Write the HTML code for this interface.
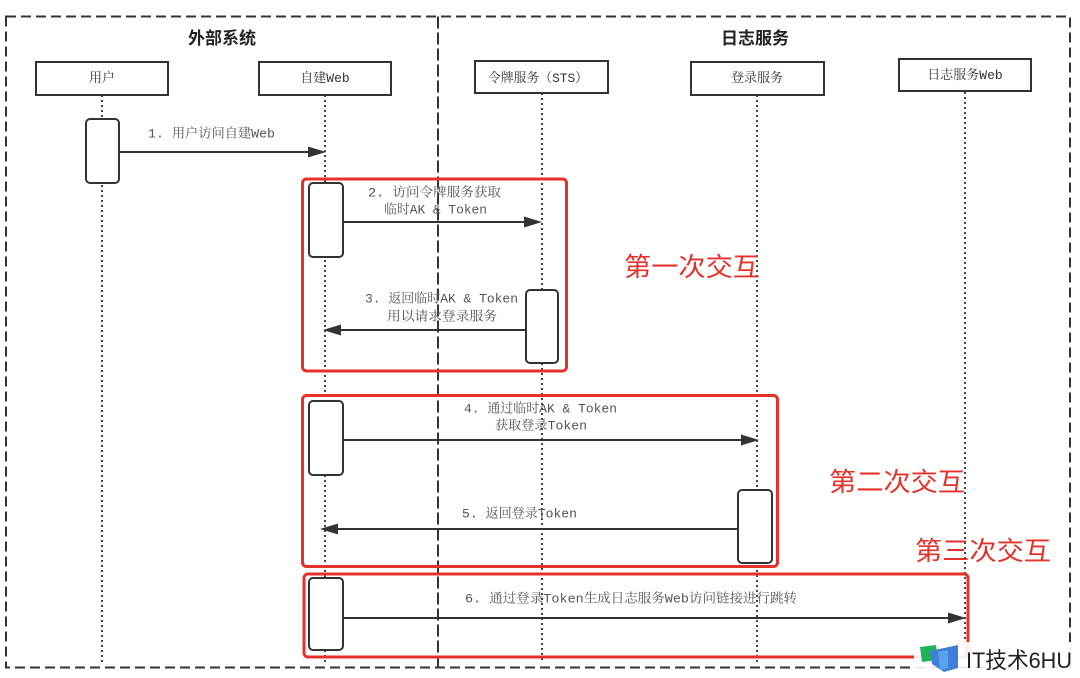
<!DOCTYPE html>
<html>
<head>
<meta charset="utf-8">
<style>
html,body{margin:0;padding:0;background:#fff;}
svg{display:block;}
.lbl{font-family:"Liberation Mono","Noto Serif CJK SC",monospace;font-size:13px;fill:#555;}
.pl{font-family:"Liberation Mono","Noto Serif CJK SC",monospace;font-size:13px;fill:#333;}
.hd{font-family:"Liberation Sans","Noto Sans CJK SC",sans-serif;font-size:17px;font-weight:bold;fill:#222;}
.red{font-family:"Liberation Sans","Noto Sans CJK SC",sans-serif;font-size:26px;fill:#e4322b;}
.wm{font-family:"Liberation Sans","Noto Sans CJK SC",sans-serif;font-size:22px;fill:#222;}
</style>
</head>
<body>
<svg width="1080" height="678" viewBox="0 0 1080 678" xmlns="http://www.w3.org/2000/svg">
<rect x="0" y="0" width="1080" height="678" fill="#fff"/>
<!-- outer dashed frame -->
<rect x="6" y="16.5" width="1064" height="651" fill="none" stroke="#333" stroke-width="2" stroke-dasharray="10 5"/>
<line x1="438" y1="16.5" x2="438" y2="667.5" stroke="#333" stroke-width="2" stroke-dasharray="12 4"/>

<!-- headers -->
<text class="hd" x="222" y="44" text-anchor="middle">外部系统</text>
<text class="hd" x="755" y="44" text-anchor="middle">日志服务</text>

<!-- lifelines -->
<g stroke="#444" stroke-width="2" stroke-dasharray="2 3" fill="none">
<line x1="102" y1="95" x2="102" y2="662"/>
<line x1="325" y1="95" x2="325" y2="662"/>
<line x1="542" y1="93" x2="542" y2="662"/>
<line x1="757" y1="95" x2="757" y2="662"/>
<line x1="965" y1="92" x2="965" y2="662"/>
</g>

<!-- participant boxes -->
<g fill="#fff" stroke="#333" stroke-width="2">
<rect x="36" y="62" width="132" height="33"/>
<rect x="259" y="62" width="132" height="33"/>
<rect x="475" y="61" width="133" height="32"/>
<rect x="691" y="62" width="133" height="33"/>
<rect x="899" y="59" width="132" height="32"/>
</g>
<text class="pl" x="102" y="82" text-anchor="middle">用户</text>
<text class="pl" x="325" y="82" text-anchor="middle">自建Web</text>
<text class="pl" x="488" y="82" textLength="100" lengthAdjust="spacingAndGlyphs">令牌服务（STS）</text>
<text class="pl" x="757" y="82" text-anchor="middle">登录服务</text>
<text class="pl" x="965" y="79" text-anchor="middle">日志服务Web</text>

<!-- activation boxes -->
<g fill="#fff" stroke="#333" stroke-width="2">
<rect x="86" y="119" width="33" height="64" rx="4"/>
<rect x="309" y="183" width="34" height="74" rx="4"/>
<rect x="526" y="290" width="32" height="73" rx="4"/>
<rect x="309" y="401" width="34" height="74" rx="4"/>
<rect x="738" y="490" width="34" height="73" rx="4"/>
<rect x="309" y="578" width="34" height="72" rx="4"/>
</g>

<!-- arrows -->
<g stroke="#333" stroke-width="2">
<line x1="119" y1="152" x2="310" y2="152"/>
<line x1="343" y1="222" x2="526" y2="222"/>
<line x1="526" y1="330" x2="339" y2="330"/>
<line x1="343" y1="440" x2="742" y2="440"/>
<line x1="738" y1="529" x2="336" y2="529"/>
<line x1="343" y1="618" x2="950" y2="618"/>
</g>
<g fill="#333">
<polygon points="326,152 308,146.5 308,157.5"/>
<polygon points="542,222 524,216.5 524,227.5"/>
<polygon points="323,330 341,324.5 341,335.5"/>
<polygon points="759,440 741,434.5 741,445.5"/>
<polygon points="320,529 338,523.5 338,534.5"/>
<polygon points="966,618 948,612.5 948,623.5"/>
</g>

<!-- message labels -->
<text class="lbl" x="148" y="137.5" textLength="127" lengthAdjust="spacingAndGlyphs">1. 用户访问自建Web</text>
<text class="lbl" x="368" y="196.5" textLength="133" lengthAdjust="spacingAndGlyphs">2. 访问令牌服务获取</text>
<text class="lbl" x="384" y="213.5" textLength="103" lengthAdjust="spacingAndGlyphs">临时AK &amp; Token</text>
<text class="lbl" x="365" y="302.5" textLength="153" lengthAdjust="spacingAndGlyphs">3. 返回临时AK &amp; Token</text>
<text class="lbl" x="387" y="320.5" textLength="110" lengthAdjust="spacingAndGlyphs">用以请求登录服务</text>
<text class="lbl" x="464" y="412.5" textLength="153" lengthAdjust="spacingAndGlyphs">4. 通过临时AK &amp; Token</text>
<text class="lbl" x="495" y="429.5" textLength="92" lengthAdjust="spacingAndGlyphs">获取登录Token</text>
<text class="lbl" x="462" y="517.5" textLength="115" lengthAdjust="spacingAndGlyphs">5. 返回登录Token</text>
<text class="lbl" x="465" y="602.5" textLength="332" lengthAdjust="spacingAndGlyphs">6. 通过登录Token生成日志服务Web访问链接进行跳转</text>

<!-- red boxes -->
<g fill="none" stroke="#e4322b" stroke-width="3">
<rect x="302.5" y="179" width="264" height="192" rx="4"/>
<rect x="302.5" y="395.5" width="475" height="171" rx="4"/>
<rect x="304" y="574" width="664" height="83" rx="4"/>
</g>

<!-- red labels -->
<text class="red" x="624" y="276" textLength="136" lengthAdjust="spacingAndGlyphs">第一次交互</text>
<text class="red" x="829" y="491" textLength="136" lengthAdjust="spacingAndGlyphs">第二次交互</text>
<text class="red" x="915" y="560" textLength="136" lengthAdjust="spacingAndGlyphs">第三次交互</text>

<!-- watermark -->
<rect x="914" y="642" width="162" height="34" fill="#fff" opacity="0.9"/>
<polygon points="920,647 936,645 938,660 922,662" fill="#1fb35a"/>
<polygon points="930,651 958,645 958,668 944,672 932,664" fill="#3f7fd8"/>
<polygon points="938,652 948,650 948,668 940,670" fill="#5aa2ee"/>
<text class="wm" x="966" y="668" textLength="106" lengthAdjust="spacingAndGlyphs">IT技术6HU</text>
</svg>
</body>
</html>
